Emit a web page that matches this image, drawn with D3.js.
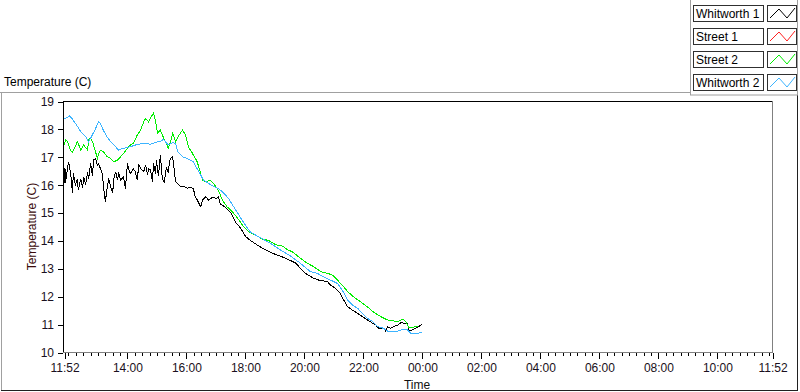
<!DOCTYPE html>
<html>
<head>
<meta charset="utf-8">
<script src="https://cdn.jsdelivr.net/npm/d3@7"></script>
<style>
  body { margin: 0; background: #fff; }
  svg { font-family: "Liberation Sans", Arial, sans-serif; font-size: 12px; }
  .tick text { fill: #1a1020; }
</style>
</head>
<body>
<svg id="chart" width="800" height="392"></svg>
<script>
"use strict";

// minutes after 11:52, temperature in C
let whitworth1 = [
  [0, 16.05], [2, 16.6], [3, 16.05], [9, 16.82], [11, 16.7], [15, 16.16], [17, 15.7], [19, 16.4],
  [23, 16.0], [27, 16.2], [29, 15.81], [34, 16.2], [38, 15.9], [40, 16.28], [44, 16.0], [48, 16.46],
  [50, 16.2], [54, 16.77], [58, 16.3], [60, 16.88], [64, 16.94], [68, 16.7], [70, 16.75], [74, 16.58],
  [78, 16.4], [80, 15.99], [84, 15.39], [88, 15.9], [91, 16.22], [95, 15.9], [99, 15.69], [101, 16.2],
  [105, 16.46], [109, 16.16], [111, 16.46], [115, 16.16], [121, 16.28], [125, 15.86], [129, 16.77],
  [131, 16.6], [135, 16.4], [141, 16.58], [145, 16.46], [149, 16.16], [152, 16.7], [156, 16.58],
  [162, 16.46], [166, 16.7], [170, 16.35], [172, 16.58], [176, 16.52], [180, 16.1], [182, 16.77],
  [186, 16.4], [188, 16.88], [192, 16.3], [196, 17.05], [200, 16.2], [204, 16.1], [208, 16.6],
  [212, 16.46], [216, 16.94], [221, 17.0], [225, 16.4], [227, 16.1], [231, 16.04], [237, 15.93],
  [243, 15.95], [251, 15.87], [257, 15.9], [263, 15.86], [267, 15.57], [271, 15.45], [278, 15.21],
  [282, 15.45], [288, 15.57], [294, 15.45], [302, 15.55], [310, 15.5], [314, 15.57], [318, 15.3],
  [328, 15.2], [339, 15.0], [349, 14.65], [359, 14.45], [369, 14.15], [379, 14.0], [396, 13.8],
  [410, 13.66], [430, 13.5], [450, 13.37], [471, 13.19], [481, 13.0], [491, 12.82], [508, 12.64],
  [518, 12.58], [536, 12.52], [542, 12.4], [548, 12.34], [562, 12.1], [569, 11.86], [577, 11.62],
  [587, 11.5], [597, 11.39], [607, 11.27], [617, 11.15], [628, 11.03], [634, 10.97], [640, 10.85],
  [650, 10.85], [654, 10.76], [658, 10.91], [664, 10.85], [671, 10.91], [679, 10.97], [685, 11.05],
  [695, 11.03], [699, 11.03], [701, 10.79], [705, 10.76], [715, 10.85], [721, 10.91], [729, 10.99]
];

let street1 = [];

let street2 = [
  [0, 17.42], [3, 17.6], [7, 17.55], [13, 17.24], [17, 17.15], [23, 17.36], [27, 17.54], [29, 17.48],
  [34, 17.24], [40, 17.42], [48, 17.24], [50, 17.6], [54, 17.67], [58, 17.54], [64, 17.18], [68, 16.95],
  [70, 17.1], [74, 17.24], [80, 17.18], [88, 17.0], [95, 16.94], [101, 16.82], [109, 16.88], [115, 17.0],
  [121, 17.12], [129, 17.3], [135, 17.42], [141, 17.48], [149, 17.78], [156, 17.96], [162, 18.25],
  [166, 18.37], [172, 18.25], [176, 18.4], [182, 18.56], [186, 18.3], [190, 17.85], [196, 17.96],
  [202, 17.7], [210, 17.42], [212, 17.3], [216, 17.5], [221, 17.85], [227, 17.55], [233, 17.75],
  [241, 17.96], [247, 17.78], [253, 17.36], [261, 17.13], [271, 16.82], [278, 16.4], [282, 16.16],
  [288, 16.1], [298, 16.16], [304, 16.05], [314, 15.8], [322, 15.45], [332, 15.2], [344, 15.0],
  [355, 14.75], [365, 14.5], [377, 14.3], [389, 14.2], [403, 14.05], [416, 14.0], [430, 13.85],
  [444, 13.8], [456, 13.65], [464, 13.6], [481, 13.36], [495, 13.18], [508, 13.06], [522, 12.88],
  [536, 12.82], [546, 12.76], [556, 12.58], [566, 12.4], [577, 12.16], [589, 11.98], [603, 11.8],
  [617, 11.62], [629, 11.44], [644, 11.27], [658, 11.15], [671, 11.11], [681, 11.11], [689, 11.18],
  [695, 11.1], [701, 10.89], [711, 10.89], [719, 10.93]
];

let whitworth2 = [
  [0, 18.35], [5, 18.4], [11, 18.46], [15, 18.4], [19, 18.3], [27, 18.1], [34, 17.9], [44, 17.72],
  [50, 17.54], [54, 17.66], [64, 18.0], [70, 18.25], [74, 18.2], [80, 17.95], [88, 17.7], [95, 17.54],
  [105, 17.36], [111, 17.24], [119, 17.3], [127, 17.32], [135, 17.36], [145, 17.42], [162, 17.49],
  [176, 17.45], [190, 17.54], [196, 17.54], [202, 17.63], [212, 17.42], [221, 17.5], [227, 17.48],
  [231, 17.18], [241, 17.0], [249, 16.95], [257, 16.88], [263, 16.82], [273, 16.5], [284, 16.16],
  [298, 16.0], [312, 15.88], [322, 15.75], [334, 15.52], [349, 15.1], [365, 14.65], [379, 14.3],
  [399, 14.1], [420, 13.9], [440, 13.66], [460, 13.45], [481, 13.18], [501, 12.88], [515, 12.82],
  [528, 12.7], [542, 12.58], [556, 12.46], [566, 12.22], [577, 11.86], [587, 11.68], [597, 11.57],
  [607, 11.39], [617, 11.21], [628, 11.09], [638, 10.91], [650, 10.85], [660, 10.73], [677, 10.73],
  [685, 10.79], [699, 10.79], [705, 10.67], [717, 10.67], [729, 10.7]
];

let seriesNames = ['Whitworth 1', 'Street 1', 'Street 2', 'Whitworth 2'];
let seriesColors = ['#000000', '#ff2020', '#00ee00', '#3cb4ff'];
let seriesData = [whitworth1, street1, street2, whitworth2];

let yTicks = [10, 11, 12, 13, 14, 15, 16, 17, 18, 19];
let xTickHours = ['11:52', '14:00', '16:00', '18:00', '20:00', '22:00', '00:00',
  '02:00', '04:00', '06:00', '08:00', '10:00', '11:52'];

(function () {
  let svg = d3.select('#chart');

  let left = 64, right = 772, top = 101, bottom = 352;

  let start = new Date(2000, 0, 1, 11, 52);
  let end = d3.timeHour.offset(start, 24);

  let xScale = d3.scaleTime().domain([start, end]).range([left, right]);
  let yScale = d3.scaleLinear().domain([10, 19]).range([bottom, top]);

  function toDate(min) {
    return d3.timeMinute.offset(start, min);
  }

  let majorTicks = xTickHours.map(function (s, i) {
    if (i === 0) return start;
    if (i === xTickHours.length - 1) return end;
    let parts = s.split(':');
    let d = new Date(2000, 0, 1, +parts[0], +parts[1]);
    if (d < start) d = d3.timeDay.offset(d, 1);
    return d;
  });

  // outer frame
  svg.append('line').attr('x1', 0).attr('x2', 690).attr('y1', 92.5).attr('y2', 92.5).attr('stroke', '#a0a0a0');
  svg.append('line').attr('x1', 1.5).attr('x2', 1.5).attr('y1', 92).attr('y2', 390).attr('stroke', '#a0a0a0');
  svg.append('line').attr('x1', 1).attr('x2', 798).attr('y1', 390.5).attr('y2', 390.5).attr('stroke', '#202020');
  svg.append('line').attr('x1', 797.5).attr('x2', 797.5).attr('y1', 92).attr('y2', 391).attr('stroke', '#202020');

  svg.append('text')
    .attr('x', 4)
    .attr('y', 86)
    .attr('fill', '#000')
    .text('Temperature (C)');

  // plot area
  svg.append('rect')
    .attr('x', left).attr('y', top)
    .attr('width', right - left).attr('height', bottom - top)
    .attr('fill', '#fff');

  svg.append('clipPath').attr('id', 'plot-clip')
    .append('rect')
    .attr('x', left).attr('y', top)
    .attr('width', right - left).attr('height', bottom - top);

  let line = d3.line()
    .x(function (d) { return xScale(toDate(d[0])); })
    .y(function (d) { return yScale(d[1]); });

  svg.append('g')
    .attr('clip-path', 'url(#plot-clip)')
    .selectAll('path')
    .data(seriesData)
    .enter()
    .append('path')
    .attr('d', function (d) { return d.length ? line(d) : null; })
    .attr('fill', 'none')
    .attr('stroke', function (d, i) { return seriesColors[i]; })
    .attr('stroke-width', 1)
    .attr('shape-rendering', 'crispEdges');

  svg.append('line').attr('x1', left - 1).attr('x2', right).attr('y1', top + 0.5).attr('y2', top + 0.5).attr('stroke', '#000');
  svg.append('line').attr('x1', left - 0.5).attr('x2', left - 0.5).attr('y1', top).attr('y2', bottom + 1).attr('stroke', '#000');
  svg.append('line').attr('x1', left - 1).attr('x2', right + 1).attr('y1', bottom + 0.5).attr('y2', bottom + 0.5).attr('stroke', '#808080');
  svg.append('line').attr('x1', right + 0.5).attr('x2', right + 0.5).attr('y1', top).attr('y2', bottom + 1).attr('stroke', '#808080');

  // axes
  let xMinor = d3.axisBottom(xScale)
    .tickValues(d3.timeMinute.every(15).range(start, end))
    .tickSize(3)
    .tickFormat('');

  let xAxis = d3.axisBottom(xScale)
    .tickValues(majorTicks)
    .tickSize(6)
    .tickPadding(4)
    .tickFormat(d3.timeFormat('%H:%M'));

  let yAxis = d3.axisLeft(yScale)
    .tickValues(yTicks)
    .tickSize(5)
    .tickPadding(4)
    .tickFormat(d3.format('d'));

  svg.append('g')
    .attr('transform', 'translate(0.5,' + (bottom + 1) + ')')
    .call(xMinor)
    .call(function (g) { g.select('.domain').remove(); });

  svg.append('g')
    .attr('transform', 'translate(0.5,' + (bottom + 1) + ')')
    .call(xAxis)
    .call(function (g) { g.select('.domain').remove(); });

  svg.append('g')
    .attr('transform', 'translate(' + (left - 1) + ',0.5)')
    .call(yAxis)
    .call(function (g) { g.select('.domain').remove(); });

  svg.selectAll('.tick text').attr('font-size', 12).attr('font-family', '"Liberation Sans", Arial, sans-serif');
  svg.selectAll('.tick line').attr('stroke', '#000').attr('shape-rendering', 'crispEdges');

  svg.append('text')
    .attr('x', (left + 770) / 2)
    .attr('y', 389)
    .attr('text-anchor', 'middle')
    .attr('fill', '#101010')
    .text('Time');

  svg.append('text')
    .attr('transform', 'translate(36,' + ((top + bottom) / 2) + ') rotate(-90)')
    .attr('text-anchor', 'middle')
    .attr('fill', '#3a0a0a')
    .text('Temperature (C)');

  // legend panel
  let legend = svg.append('g');
  legend.append('rect')
    .attr('x', 690.5).attr('y', -1)
    .attr('width', 107).attr('height', 96)
    .attr('fill', '#fff')
    .attr('stroke', '#a0a0a0');

  let items = legend.selectAll('g.item')
    .data(seriesNames)
    .enter()
    .append('g')
    .attr('class', 'item')
    .attr('transform', function (d, i) {
      return 'translate(0,' + (5 + i * 23) + ')';
    });

  items.append('rect')
    .attr('x', 693.5).attr('y', 0.5)
    .attr('width', 70).attr('height', 16)
    .attr('fill', '#fff')
    .attr('stroke', '#303030');

  items.append('text')
    .attr('x', 696)
    .attr('y', 13)
    .attr('fill', '#000')
    .text(function (d) { return d; });

  items.append('rect')
    .attr('x', 767.5).attr('y', 0.5)
    .attr('width', 29).attr('height', 16)
    .attr('fill', '#fff')
    .attr('stroke', '#303030');

  items.append('polyline')
    .attr('points', '770,13 779,4 787,13 795,3')
    .attr('fill', 'none')
    .attr('stroke', function (d, i) { return seriesColors[i]; });
})();
</script>
</body>
</html>
